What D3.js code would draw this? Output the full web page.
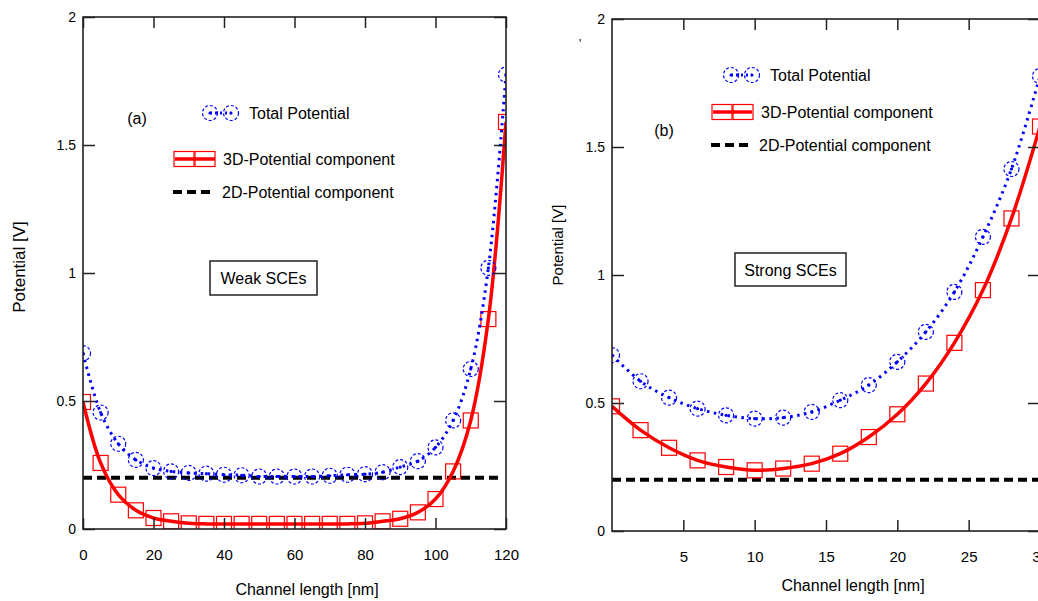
<!DOCTYPE html>
<html>
<head>
<meta charset="utf-8">
<script src="https://cdn.jsdelivr.net/npm/d3@7/dist/d3.min.js"></script>
<style>
  html, body { margin: 0; padding: 0; background: #fff; }
  svg { display: block; font-family: "Liberation Sans", Arial, sans-serif; }
</style>
</head>
<body>
<svg id="chart" width="1038" height="601"></svg>
<script>
// ---------- data ----------
const xA = [0, 5, 10, 15, 20, 25, 30, 35, 40, 45, 50, 55, 60, 65, 70, 75, 80, 85, 90, 95, 100, 105, 110, 115, 120];
const totalA = [0.687, 0.455, 0.333, 0.27, 0.238, 0.225, 0.219, 0.216, 0.212, 0.21, 0.205, 0.205, 0.205, 0.205, 0.208, 0.212, 0.214, 0.222, 0.242, 0.265, 0.319, 0.424, 0.625, 1.02, 1.775];
const pot3DA = [0.496, 0.258, 0.134, 0.073, 0.043, 0.03, 0.022, 0.02, 0.02, 0.02, 0.02, 0.02, 0.02, 0.02, 0.02, 0.02, 0.022, 0.03, 0.04, 0.065, 0.117, 0.225, 0.424, 0.82, 1.59];
const pot2DA = 0.2;

const xB = [0, 2, 4, 6, 8, 10, 12, 14, 16, 18, 20, 22, 24, 26, 28, 30];
const totalB = [0.687, 0.585, 0.521, 0.478, 0.452, 0.439, 0.443, 0.465, 0.511, 0.57, 0.661, 0.778, 0.934, 1.149, 1.414, 1.777];
const pot3DB = [0.487, 0.394, 0.325, 0.276, 0.25, 0.237, 0.244, 0.263, 0.302, 0.367, 0.456, 0.576, 0.735, 0.941, 1.221, 1.58];
const pot2DB = 0.2;

const xTicksA = [0, 20, 40, 60, 80, 100, 120];
const xTicksB = [5, 10, 15, 20, 25, 30];
const yTicks = [0, 0.5, 1, 1.5, 2];
const yTickLabels = ["0", "0.5", "1", "1.5", "2"];

const legendLabels = ["Total Potential", "3D-Potential component", "2D-Potential component"];
const xTitle = "Channel length [nm]";
const yTitle = "Potential [V]";

// ---------- drawing ----------
const svg = d3.select("#chart");
const BLUE = "#0000ff", RED = "#ff0000";
const FS = 16;

function panel(o) {
  const x = d3.scaleLinear().domain(o.xDomain).range([o.left, o.right]);
  const y = d3.scaleLinear().domain([0, 2]).range([o.bottom, o.top]);
  const g = svg.append("g");

  const clipId = "clip" + o.id;
  svg.append("clipPath").attr("id", clipId).append("rect")
    .attr("x", o.left).attr("y", o.top)
    .attr("width", o.right - o.left).attr("height", o.bottom - o.top);

  const plot = g.append("g").attr("clip-path", `url(#${clipId})`);

  // 2D potential dashed line
  plot.append("line")
    .attr("x1", x(o.xDomain[0])).attr("x2", x(o.xDomain[1]) - o.dashEnd)
    .attr("y1", y(o.p2d)).attr("y2", y(o.p2d))
    .attr("stroke", "#000").attr("stroke-width", 4)
    .attr("stroke-dasharray", "9,5");

  const ptsT = o.xs.map((d, i) => [d, o.total[i]]);
  const pts3 = o.xs.map((d, i) => [d, o.p3d[i]]);
  const lineGen = d3.line().x(d => x(d[0])).y(d => y(d[1])).curve(d3.curveCatmullRom.alpha(0.5));

  // 3D solid line
  plot.append("path").attr("d", lineGen(pts3))
    .attr("fill", "none").attr("stroke", RED).attr("stroke-width", 3.5);
  // 3D squares
  plot.selectAll(null).data(pts3).enter().append("rect")
    .attr("x", d => x(d[0]) - 7.5).attr("y", d => y(d[1]) - 7.5)
    .attr("width", 15).attr("height", 15)
    .attr("fill", "none").attr("stroke", RED).attr("stroke-width", 1.2);

  // total dotted line
  plot.append("path").attr("d", lineGen(ptsT))
    .attr("fill", "none").attr("stroke", BLUE).attr("stroke-width", 3)
    .attr("stroke-dasharray", "2.5,4.5");
  // total circles
  plot.selectAll(null).data(ptsT).enter().append("circle")
    .attr("cx", d => x(d[0])).attr("cy", d => y(d[1])).attr("r", 7.5)
    .attr("fill", "none").attr("stroke", BLUE).attr("stroke-width", 1.2)
    .attr("stroke-dasharray", "3,2");
  plot.selectAll(null).data(ptsT).enter().append("circle")
    .attr("cx", d => x(d[0])).attr("cy", d => y(d[1])).attr("r", 1.6)
    .attr("fill", BLUE);

  // axes (inward ticks)
  const axB = g.append("g").attr("transform", `translate(0,${o.bottom})`)
    .call(d3.axisBottom(x).tickValues(o.xTicks).tickSize(-11).tickPadding(20).tickFormat(d3.format("d")));
  const axT = g.append("g").attr("transform", `translate(0,${o.top})`)
    .call(d3.axisTop(x).tickValues(o.xTicks).tickSize(-11).tickFormat(""));
  const axL = g.append("g").attr("transform", `translate(${o.left},0)`)
    .call(d3.axisLeft(y).tickValues(yTicks).tickSize(-12).tickPadding(7).tickFormat((d, i) => yTickLabels[i]));
  const axR = g.append("g").attr("transform", `translate(${o.right},0)`)
    .call(d3.axisRight(y).tickValues(yTicks).tickSize(-12).tickFormat(""));
  [axB, axT, axL, axR].forEach(a => {
    a.select(".domain").remove();
    a.selectAll(".tick line").attr("stroke", "#222").attr("stroke-width", 1.5);
    a.selectAll("text").attr("font-size", 15).attr("fill", "#000")
      .attr("font-family", "'Liberation Sans', Arial, sans-serif");
  });
  axL.selectAll("text").attr("font-size", 14);

  // frame
  g.append("rect").attr("x", o.left).attr("y", o.top)
    .attr("width", o.right - o.left).attr("height", o.bottom - o.top)
    .attr("fill", "none").attr("stroke", "#222").attr("stroke-width", 1.6);

  // axis titles
  g.append("text").attr("x", o.xTitleX).attr("y", o.xTitleY)
    .attr("text-anchor", "middle").attr("font-size", FS).text(xTitle);
  g.append("text").attr("transform", `translate(${o.yTitleX},${o.yTitleY}) rotate(-90)`)
    .attr("text-anchor", "middle").attr("font-size", o.yTitleSize).text(yTitle);

  // panel label
  g.append("text").attr("x", o.tag[0]).attr("y", o.tag[1]).attr("font-size", FS)
    .attr("text-anchor", "middle").text(o.tagText);

  // legend
  const L = o.legend;
  // total
  g.append("line").attr("x1", L.c1).attr("x2", L.c2).attr("y1", L.yT).attr("y2", L.yT)
    .attr("stroke", BLUE).attr("stroke-width", 3).attr("stroke-dasharray", "2,3");
  [L.c1, L.c2].forEach(cx => {
    g.append("circle").attr("cx", cx).attr("cy", L.yT).attr("r", 7.5)
      .attr("fill", "none").attr("stroke", BLUE).attr("stroke-width", 1.2).attr("stroke-dasharray", "3,2");
    g.append("circle").attr("cx", cx).attr("cy", L.yT).attr("r", 1.6).attr("fill", BLUE);
  });
  g.append("text").attr("x", L.tT).attr("y", L.yT + 6).attr("font-size", FS).text(legendLabels[0]);
  // 3D
  g.append("line").attr("x1", L.l3[0]).attr("x2", L.l3[1]).attr("y1", L.y3).attr("y2", L.y3)
    .attr("stroke", RED).attr("stroke-width", 3.5);
  [L.s1, L.s2].forEach(cx => {
    g.append("rect").attr("x", cx - 10).attr("y", L.y3 - 7.5).attr("width", 20).attr("height", 15)
      .attr("fill", "none").attr("stroke", RED).attr("stroke-width", 1.2);
  });
  g.append("text").attr("x", L.t3).attr("y", L.y3 + 6).attr("font-size", FS).text(legendLabels[1]);
  // 2D
  g.append("line").attr("x1", L.l2[0]).attr("x2", L.l2[1]).attr("y1", L.y2).attr("y2", L.y2)
    .attr("stroke", "#000").attr("stroke-width", 4).attr("stroke-dasharray", "9,5");
  g.append("text").attr("x", L.t2).attr("y", L.y2 + 6).attr("font-size", FS).text(legendLabels[2]);

  // annotation box
  const B = o.box;
  g.append("rect").attr("x", B.x).attr("y", B.y).attr("width", B.w).attr("height", B.h)
    .attr("fill", "#fff").attr("stroke", "#222").attr("stroke-width", 1.5);
  g.append("text").attr("x", B.x + B.w / 2).attr("y", B.y + B.h / 2 + 6)
    .attr("text-anchor", "middle").attr("font-size", FS).text(B.text);
}

panel({
  id: "A", xDomain: [0, 120], left: 83, right: 506, top: 17, bottom: 529,
  xs: xA, total: totalA, p3d: pot3DA, p2d: pot2DA, dashEnd: 8,
  xTicks: xTicksA,
  xTitleX: 307, xTitleY: 595, yTitleX: 25, yTitleY: 267, yTitleSize: 17,
  tag: [137, 124], tagText: "(a)",
  legend: { c1: 210, c2: 231, yT: 113, tT: 249,
            l3: [175, 215], s1: 184, s2: 205, y3: 159, t3: 223,
            l2: [173, 215], y2: 192, t2: 222 },
  box: { x: 210, y: 261, w: 107, h: 34, text: "Weak SCEs" }
});

panel({
  id: "B", xDomain: [0, 30], left: 612, right: 1040, top: 19, bottom: 531,
  xs: xB, total: totalB, p3d: pot3DB, p2d: pot2DB, dashEnd: 0,
  xTicks: xTicksB,
  xTitleX: 853, xTitleY: 591, yTitleX: 563, yTitleY: 245, yTitleSize: 15,
  tag: [664, 136], tagText: "(b)",
  legend: { c1: 731, c2: 752, yT: 75, tT: 770,
            l3: [713, 752], s1: 722, s2: 743, y3: 112, t3: 761,
            l2: [711, 751], y2: 145, t2: 759 },
  box: { x: 735, y: 253, w: 111, h: 33, text: "Strong SCEs" }
});

// stray mark in the original
svg.append("text").attr("x", 579).attr("y", 48).attr("font-size", 12).text("'");
</script>
</body>
</html>
